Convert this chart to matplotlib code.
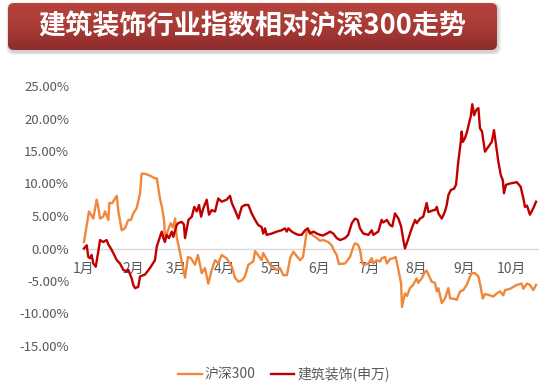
import matplotlib
matplotlib.use("Agg")
import matplotlib.pyplot as plt
import numpy as np
from matplotlib.patches import FancyBboxPatch
from matplotlib.ticker import FuncFormatter

plt.rcParams['font.family'] = ['Noto Sans CJK SC', 'DejaVu Sans']

# trading-day index of each month start and its label
month_days = [0, 22, 41, 62, 83, 104, 126, 147, 168, 189]
month_labels = ['1月', '2月', '3月', '4月', '5月', '6月', '7月', '8月', '9月', '10月']

# 沪深300 relative trend (day index, %)
hs300_day = [0, 2.2, 3.1, 4.1, 5.6, 6.3, 7.1, 8.5, 9.3, 10.8, 11.2, 12.5, 14.5, 15.2,
             16.7, 18.1, 19.6, 20.8, 21.8, 23.3, 24.8, 25.5, 27.0, 29.2, 31.4, 32.2,
             33.6, 34.6, 35.5, 35.8, 38.4, 39.4, 40.3, 41.0, 42.5, 44.7, 46.0, 47.3,
             49.1, 50.4, 52.1, 53.5, 55.0, 56.5, 58.0, 59.4, 60.9, 63.1, 65.4, 66.8,
             68.3, 69.9, 71.2, 72.7, 74.9, 75.7, 77.0, 78.6, 79.3, 80.1, 82.3, 85.3,
             86.7, 88.2, 89.8, 91.2, 92.6, 94.2, 95.6, 96.9, 97.8, 98.5, 100.0, 101.3,
             103.0, 104.4, 105.9, 108.0, 109.6, 110.6, 111.8, 112.8, 115.5, 117.7,
             119.2, 119.9, 121.2, 122.1, 123.1, 124.3, 125.8, 127.3, 128.0, 129.5,
             131.0, 131.7, 133.2, 134.0, 135.4, 136.9, 137.9, 139.1, 140.3, 140.7,
             142.0, 142.9, 144.2, 145.6, 147.2, 147.9, 149.4, 150.9, 151.6, 152.4,
             153.8, 155.3, 156.1, 156.8, 158.3, 159.7, 161.2, 162.0, 163.4, 164.9,
             166.4, 167.8, 169.3, 170.8, 171.5, 173.0, 174.5, 175.5, 176.4, 177.4,
             179.6, 181.1, 182.6, 184.1, 185.5, 186.3, 188.5, 191.5, 193.6, 194.4,
             195.9, 197.3, 198.8, 200]
hs300_val = [1.0, 5.7, 5.2, 4.6, 7.5, 6.4, 4.6, 4.9, 5.7, 4.4, 7.0, 7.0, 8.1, 5.7,
             2.8, 3.1, 4.4, 4.4, 5.4, 6.2, 8.5, 11.5, 11.5, 11.2, 10.8, 10.8,
             7.7, 6.2, 4.1, 1.6, 3.9, 3.2, 4.6, 1.8, -0.7, -4.5, -1.3, -1.5,
             -2.5, -1.0, -3.8, -3.0, -5.4, -3.3, -1.8, -2.3, -1.0, -1.5, -2.8, -4.5,
             -5.1, -4.9, -4.3, -2.5, -2.0, -0.4, -1.0, -1.8, -0.7, -1.2, -2.5, -3.3,
             -3.0, -4.1, -4.1, -1.5, -0.5, -1.2, -1.8, -1.3, 0.8, 2.6, 2.6, 2.0,
             1.6, 1.2, 1.3, 1.0, 0.5, -0.3, -1.0, -2.4, -2.3, -1.3,
             0.3, 0.8, 0.6, -0.2, -2.3, -2.5, -2.3, -1.5, -2.3, -1.8,
             -2.0, -1.5, -1.3, -2.3, -1.6, -1.5, -1.3, -3.3, -5.4, -9.0,
             -6.9, -7.3, -6.1, -5.6, -4.6, -5.3, -4.6, -3.6, -3.4, -4.0,
             -5.1, -5.3, -6.6, -6.1, -8.4, -7.7, -6.1, -7.7, -7.7, -7.9,
             -6.6, -6.4, -5.6, -4.3, -3.8, -3.8, -4.3, -5.9, -7.7, -7.0,
             -7.2, -7.4, -6.9, -6.6, -7.2, -6.4, -6.2, -5.6, -5.4, -6.2,
             -5.4, -5.6, -6.4, -5.6]

# 建筑装饰(申万) relative trend (day index, %)
jzzs_day = [0, 1.2, 1.9, 2.7, 3.4, 4.1, 5.2, 6.3, 7.1, 8.5, 10.0, 10.8, 11.9, 13.4,
            14.5, 15.9, 17.4, 18.9, 19.6, 21.1, 21.8, 22.6, 24.0, 24.8, 27.0, 29.2,
            31.4, 32.2, 33.6, 34.4, 35.1, 35.8, 36.6, 37.6, 38.8, 39.5, 41.0, 41.7,
            43.2, 44.2, 44.7, 46.2, 47.7, 48.8, 49.9, 50.9, 51.8, 52.8, 54.3, 55.3,
            56.5, 58.0, 59.4, 60.9, 63.1, 64.6, 65.4, 66.8, 68.3, 69.8, 71.2, 72.7,
            74.2, 75.7, 77.1, 78.6, 79.3, 80.1, 80.8, 83.1, 85.3, 87.4, 88.9, 89.7,
            90.4, 91.9, 93.4, 94.8, 96.3, 97.8, 99.0, 100.0, 101.5, 103.0, 104.4,
            105.8, 108.0, 108.8, 110.3, 111.8, 113.3, 115.5, 116.9, 118.5, 119.9,
            121.1, 122.1, 123.6, 125.8, 127.3, 128.0, 130.2, 131.7, 132.4, 134.0,
            135.4, 136.4, 137.6, 139.1, 140.3, 141.3, 142.0, 142.8, 143.5, 145.0,
            146.5, 147.2, 148.7, 150.1, 151.6, 152.4, 153.1, 154.6, 155.3, 156.1,
            156.8, 158.3, 159.7, 160.5, 161.2, 162.3, 163.7, 164.6, 165.6, 166.7,
            167.1, 167.6, 168.6, 169.5, 170.5, 171.1, 171.8, 172.6, 173.5, 174.5,
            175.2, 176.1, 177.4, 180.4, 181.4, 182.3, 183.3, 184.4, 185.3, 185.8,
            186.7, 188.5, 191.5, 193.2, 194.4, 195.1, 196.0, 197.3, 198.8, 200]
jzzs_val = [0.0, 0.5, -1.3, -1.5, -1.0, -2.3, -2.8, -0.5, 1.3, 1.0, 1.3, 0.6, 0.0, -1.0,
            -1.8, -2.3, -3.3, -3.5, -3.3, -4.6, -5.6, -6.1, -5.9, -4.3, -4.0, -3.0,
            -1.8, 0.3, 1.8, 2.6, 1.6, 1.0, 2.1, 1.6, 2.6, 1.8, 3.6, 3.9,
            4.1, 3.7, 1.6, 4.4, 4.9, 6.4, 5.7, 6.7, 4.9, 6.2, 7.5, 5.2,
            5.9, 5.7, 7.7, 7.2, 7.5, 8.1, 7.0, 5.9, 4.6, 6.4, 6.7, 6.7,
            5.4, 4.4, 3.6, 3.3, 2.3, 3.1, 2.1, 2.3, 2.6, 2.8, 3.1, 2.6,
            3.1, 2.6, 2.3, 2.1, 2.1, 2.8, 3.1, 2.3, 2.6, 2.3, 2.1,
            2.0, 2.4, 2.6, 2.3, 1.6, 1.3, 1.6, 2.1, 3.9, 4.6,
            4.4, 3.1, 2.3, 2.1, 2.8, 2.1, 2.6, 4.4, 4.0, 4.4,
            3.6, 3.4, 5.4, 4.6, 3.4, 1.3, 0.0, 0.8, 1.5, 3.1,
            4.4, 3.9, 4.6, 4.9, 7.0, 5.6, 5.7, 5.9, 5.9, 6.4,
            5.4, 4.6, 5.7, 6.7, 8.2, 9.0, 9.2, 9.8, 13.4, 16.4,
            18.0, 16.4, 17.0, 18.0, 19.5, 20.3, 22.2, 20.5, 21.3, 21.6,
            18.5, 18.0, 14.9, 16.4, 18.2, 15.9, 13.4, 11.3, 10.5, 8.5,
            9.8, 10.0, 10.2, 9.5, 7.7, 6.4, 6.6, 5.2, 6.2, 7.2]

W, H = 554, 386
fig = plt.figure(figsize=(W / 100, H / 100), dpi=100)
fig.patch.set_facecolor('white')

# === title banner ===
bx, by, bw, bh = 8, 3, 489, 47
# soft shadow under the banner: a few stacked translucent boxes
for grow, a in [(3, 0.06), (2, 0.08), (1, 0.10)]:
    sh = FancyBboxPatch(((bx + 1 - grow) / W, 1 - (by + bh + 2 + grow) / H),
                        (bw + 2 * grow) / W, (bh + 2 * grow) / H,
                        boxstyle='round,pad=0,rounding_size=0.013',
                        mutation_aspect=W / H, transform=fig.transFigure,
                        facecolor='#404040', edgecolor='none', alpha=a, zorder=0)
    fig.patches.append(sh)
tax = fig.add_axes([bx / W, 1 - (by + bh) / H, bw / W, bh / H])
tax.axis('off')
tax.patch.set_alpha(0)
grad = np.linspace(0, 1, 64).reshape(-1, 1)
cmap = matplotlib.colors.LinearSegmentedColormap.from_list('banner', ['#d8453d', '#c93a35', '#a52828'])
im = tax.imshow(grad, extent=[0, 1, 0, 1], aspect='auto', cmap=cmap, origin='upper')
clip = FancyBboxPatch((0, 0), 1, 1, boxstyle='round,pad=0,rounding_size=0.012',
                      mutation_aspect=bw / bh, transform=tax.transAxes,
                      facecolor='none', edgecolor='none')
tax.add_patch(clip)
im.set_clip_path(clip)
tax.set_xlim(0, 1)
tax.set_ylim(0, 1)
fig.text(252 / W, 1 - 26 / H, '建筑装饰行业指数相对沪深300走势', color='white',
         fontsize=19.5, fontweight='bold', ha='center', va='center')

# === main chart ===
x0 = 84 - 2.26
ax = fig.add_axes([x0 / W, (H - 346) / H, (538.3 - x0) / W, 260 / H])
ax.plot(hs300_day, hs300_val, color='#F0873A', lw=1.7, label='沪深300')
ax.plot(jzzs_day, jzzs_val, color='#C00000', lw=1.7, label='建筑装饰(申万)')
ax.set_xlim(-1, 201)
ax.set_ylim(-15, 25)
ax.set_yticks(np.arange(-15, 26, 5))
ax.yaxis.set_major_formatter(FuncFormatter(lambda v, p: f'{v:.2f}%'))
ax.tick_params(axis='y', length=0, pad=9, labelsize=9.5, labelcolor='#595959')
for s in ['top', 'right', 'left']:
    ax.spines[s].set_visible(False)
ax.spines['bottom'].set_position(('data', 0))
ax.spines['bottom'].set_color('#d9d9d9')
ax.spines['bottom'].set_linewidth(1.0)
ax.spines['bottom'].set_zorder(0)
ax.set_xticks(month_days)
ax.set_xticklabels(month_labels)
ax.tick_params(axis='x', length=0, pad=10, labelsize=10, labelcolor='#595959')

fig.legend(loc='center', bbox_to_anchor=(284 / W, 1 - 374 / H), ncol=2,
           frameon=False, fontsize=10, handlelength=1.7, handletextpad=0.2,
           columnspacing=1.1, labelcolor='#595959')

fig.savefig('out.png', dpi=100)
